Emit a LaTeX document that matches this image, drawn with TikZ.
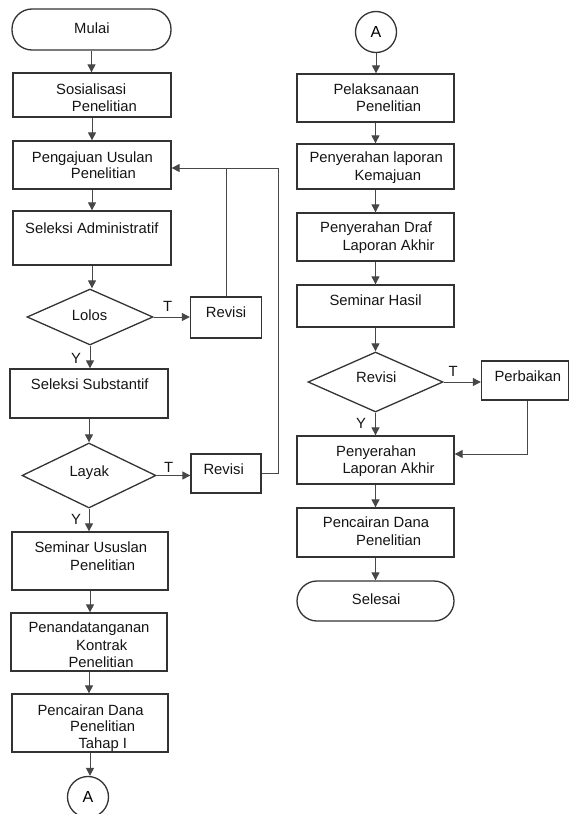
\documentclass[tikz,border=0pt]{standalone}
\usepackage{fontspec}
\setmainfont{Liberation Sans}
\usetikzlibrary{arrows.meta,shapes.geometric}
\begin{document}
\begin{tikzpicture}[x=1pt,y=-1pt,
  ln/.style={draw=black!72, line width=1pt},
  shp/.style={draw=black!80, line width=1.3pt},
  box/.style={shp, rectangle, inner sep=0pt},
  term/.style={shp, rectangle, rounded corners=20pt, inner sep=0pt},
  dec/.style={shp, diamond, inner sep=0pt},
  conn/.style={shp, circle, inner sep=0pt, minimum size=41pt, font=\fontsize{16}{18}\selectfont},
  arr/.style={ln, -{Triangle[length=8pt,width=8pt]}},
  txt/.style={anchor=base west, inner sep=0pt, font=\fontsize{14.8}{17}\selectfont, text=black!92}]
\useasboundingbox (0,0) rectangle (571,814);

% ---------- left column shapes ----------
\node[term, minimum width=159pt, minimum height=41pt] (mulai) at (91.5,29.5) {};
\node[box, minimum width=158pt, minimum height=44pt] (sos) at (92,95) {};
\node[box, minimum width=158pt, minimum height=48pt] (peng) at (92,165) {};
\node[box, minimum width=158pt, minimum height=54pt] (adm) at (92,238) {};
\node[dec, minimum width=126pt, minimum height=56pt] (lolos) at (90,317) {};
\node[box, minimum width=71pt, minimum height=41pt] (rev1) at (226,317.5) {};
\node[box, minimum width=158pt, minimum height=49pt] (subs) at (89,393.5) {};
\node[dec, minimum width=134pt, minimum height=65pt] (layak) at (89,475.5) {};
\node[box, minimum width=70pt, minimum height=39pt] (rev2) at (226,473.5) {};
\node[box, minimum width=156pt, minimum height=58pt] (sem) at (90,561) {};
\node[box, minimum width=156pt, minimum height=58pt] (ttd) at (89,642) {};
\node[box, minimum width=156pt, minimum height=58pt] (cair) at (90,723) {};
\node[conn] (a1) at (88,797) {A};
\coordinate (j) at (278,168);

% ---------- right column shapes ----------
\node[conn] (a2) at (376,32) {A};
\node[box, minimum width=157pt, minimum height=48pt] (pel) at (375.5,98) {};
\node[box, minimum width=157pt, minimum height=45pt] (kem) at (375.5,166.5) {};
\node[box, minimum width=157pt, minimum height=48pt] (draf) at (375.5,237) {};
\node[box, minimum width=157pt, minimum height=42pt] (hasil) at (375.5,306) {};
\node[dec, minimum width=135pt, minimum height=60pt] (rdec) at (375.5,382) {};
\node[box, minimum width=87pt, minimum height=39pt] (perb) at (525,380.5) {};
\node[box, minimum width=157pt, minimum height=48pt] (akhir) at (375.5,460) {};
\node[box, minimum width=157pt, minimum height=49pt] (cair2) at (375.5,532.5) {};
\node[term, minimum width=157pt, minimum height=40pt] (selesai) at (375.5,601) {};

% ---------- texts left ----------
\node[txt] (t-mulai) at (74,33.3) {Mulai};
\node[txt] (t-sos1) at (56,94) {Sosialisasi};
\node[txt] (t-sos2) at (71.7,111) {Penelitian};
\node[txt] (t-peng1) at (31.7,162) {Pengajuan Usulan};
\node[txt] (t-peng2) at (70.7,178.5) {Penelitian};
\node[txt] (t-adm) at (25,233) {Seleksi Administratif};
\node[txt] (t-lolos) at (71.7,320) {Lolos};
\node[txt] (t-T1) at (163,311.7) {T};
\node[txt] (t-rev1) at (205.7,317.3) {Revisi};
\node[txt] (t-Y1) at (71,363.3) {Y};
\node[txt] (t-subs) at (30.7,389.3) {Seleksi Substantif};
\node[txt] (t-layak) at (69.3,476) {Layak};
\node[txt] (t-T2) at (164,472.7) {T};
\node[txt] (t-rev2) at (203.3,474.3) {Revisi};
\node[txt] (t-Y2) at (71,524) {Y};
\node[txt] (t-sem1) at (34.3,552.7) {Seminar Ususlan};
\node[txt] (t-sem2) at (70,570) {Penelitian};
\node[txt] (t-ttd1) at (28.3,632.7) {Penandatanganan};
\node[txt] (t-ttd2) at (76,650) {Kontrak};
\node[txt] (t-ttd3) at (68.3,667.7) {Penelitian};
\node[txt] (t-cair1) at (37.3,715) {Pencairan Dana};
\node[txt] (t-cair2) at (70,731.7) {Penelitian};
\node[txt] (t-cair3) at (78.3,748.3) {Tahap I};

% ---------- texts right ----------
\node[txt] (t-pel1) at (333.3,94) {Pelaksanaan};
\node[txt] (t-pel2) at (356,111.7) {Penelitian};
\node[txt] (t-kem1) at (309.3,162.7) {Penyerahan laporan};
\node[txt] (t-kem2) at (354.3,180) {Kemajuan};
\node[txt] (t-draf1) at (320,232.7) {Penyerahan Draf};
\node[txt] (t-draf2) at (342.3,250) {Laporan Akhir};
\node[txt] (t-hasil) at (329.3,305) {Seminar Hasil};
\node[txt] (t-rdec) at (356,382.3) {Revisi};
\node[txt] (t-T3) at (448.3,376.7) {T};
\node[txt] (t-perb) at (494.3,381.7) {Perbaikan};
\node[txt] (t-Y3) at (356,428.3) {Y};
\node[txt] (t-akhir1) at (336,456.7) {Penyerahan};
\node[txt] (t-akhir2) at (342.3,473.3) {Laporan Akhir};
\node[txt] (t-cair21) at (322.7,527.7) {Pencairan Dana};
\node[txt] (t-cair22) at (356,545) {Penelitian};
\node[txt] (t-selesai) at (351.7,604) {Selesai};

% ---------- connectors left ----------
\draw[arr] (mulai.south) -- (mulai.south |- sos.north);
\draw[arr] (sos.south) -- (sos.south |- peng.north);
\draw[arr] (peng.south) -- (peng.south |- adm.north);
\draw[arr] (adm.south) -- (adm.south |- lolos.north);
\draw[arr] (lolos.east) -- (rev1.west |- lolos.east);
\draw[arr] (lolos.south) -- (lolos.south |- subs.north);
\draw[arr] (subs.south) -- (subs.south |- layak.north);
\draw[arr] (layak.east) -- (rev2.west |- layak.east);
\draw[arr] (layak.south) -- (layak.south |- sem.north);
\draw[arr] (sem.south) -- (sem.south |- ttd.north);
\draw[arr] (ttd.south) -- (ttd.south |- cair.north);
\draw[arr] (cair.south) -- (cair.south |- a1.north);
\draw[ln] (rev1.north) -- (rev1.north |- j);
\draw[arr] (rev2.east) -| (j) -- (peng.east |- j);

% ---------- connectors right ----------
\draw[arr] (a2.south) -- (a2.south |- pel.north);
\draw[arr] (pel.south) -- (pel.south |- kem.north);
\draw[arr] (kem.south) -- (kem.south |- draf.north);
\draw[arr] (draf.south) -- (draf.south |- hasil.north);
\draw[arr] (hasil.south) -- (hasil.south |- rdec.north);
\draw[arr] (rdec.east) -- (perb.west |- rdec.east);
\draw[arr] (rdec.south) -- (rdec.south |- akhir.north);
\draw[arr] ([xshift=2pt]perb.south) |- ([yshift=6pt]akhir.east);
\draw[arr] (akhir.south) -- (akhir.south |- cair2.north);
\draw[arr] (cair2.south) -- (cair2.south |- selesai.north);
\end{tikzpicture}
\end{document}
